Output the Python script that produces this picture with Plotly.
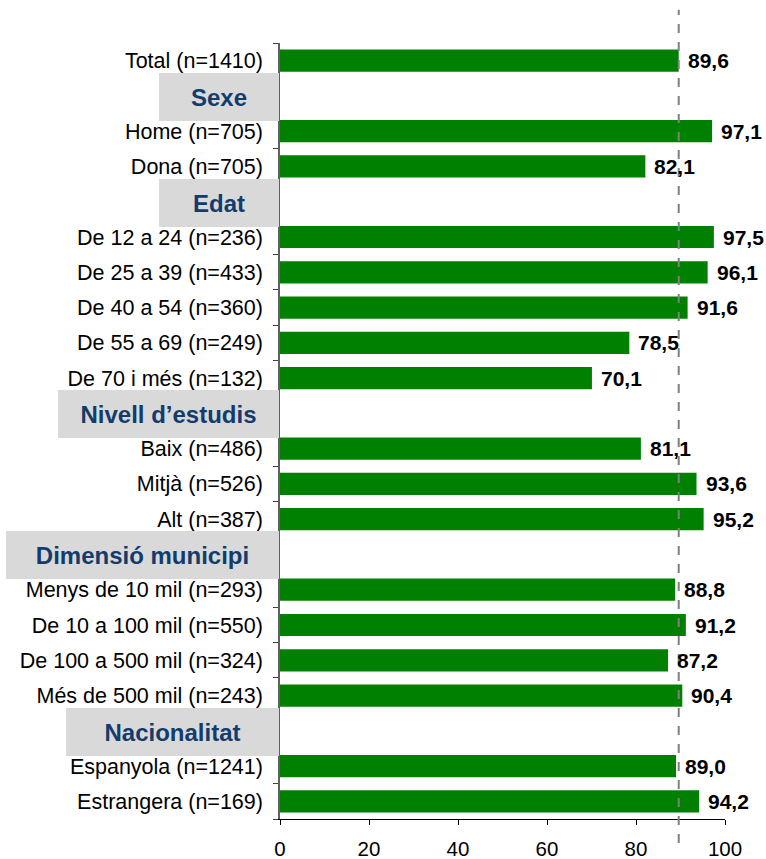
import plotly.graph_objects as go

categories = [
    "Total (n=1410)", "Sexe", "Home (n=705)", "Dona (n=705)", "Edat",
    "De 12 a 24 (n=236)", "De 25 a 39 (n=433)", "De 40 a 54 (n=360)",
    "De 55 a 69 (n=249)", "De 70 i més (n=132)", "Nivell d’estudis",
    "Baix (n=486)", "Mitjà (n=526)", "Alt (n=387)", "Dimensió municipi",
    "Menys de 10 mil (n=293)", "De 10 a 100 mil (n=550)",
    "De 100 a 500 mil (n=324)", "Més de 500 mil (n=243)", "Nacionalitat",
    "Espanyola (n=1241)", "Estrangera (n=169)",
]
headers = ["Sexe", "Edat", "Nivell d’estudis", "Dimensió municipi", "Nacionalitat"]
header_box_widths = [120, 120, 221, 273, 213]
values = [
    89.6, None, 97.1, 82.1, None,
    97.5, 96.1, 91.6, 78.5, 70.1, None,
    81.1, 93.6, 95.2, None,
    88.8, 91.2, 87.2, 90.4, None,
    89.0, 94.2,
]
reference_value = 89.6
x_ticks = [0, 20, 40, 60, 80, 100]

FONT = "Liberation Sans, Arial, sans-serif"

fig = go.Figure()
fig.add_trace(go.Bar(
    y=categories, x=values, orientation="h",
    marker=dict(color="#008000", line=dict(width=0)),
    width=0.63, hoverinfo="skip",
))

ticktext = ["" if c in headers else c for c in categories]

annotations = []
for c, v in zip(categories, values):
    if v is None:
        continue
    annotations.append(dict(
        x=v, y=c, xref="x", yref="y", xanchor="left", yanchor="middle",
        xshift=7, showarrow=False,
        text="<b>" + f"{v:.1f}".replace(".", ",") + "</b>",
        font=dict(family=FONT, size=21, color="black"),
    ))
for h, w in zip(headers, header_box_widths):
    annotations.append(dict(
        x=0, y=h, xref="paper", yref="y", xanchor="right", yanchor="middle",
        xshift=-1, yshift=-1, showarrow=False,
        text="<b>" + h + "</b>", width=w, height=48, align="center",
        bgcolor="#D9D9D9", borderpad=0, borderwidth=0,
        font=dict(family=FONT, size=24, color="#133C6D"),
    ))

fig.add_shape(
    type="line", xref="x", yref="paper",
    x0=reference_value, x1=reference_value, y0=-0.031, y1=1.043,
    line=dict(color="#808080", width=2, dash="dash"),
)

fig.update_layout(
    width=766, height=859,
    margin=dict(l=280, r=41, t=43, b=40, autoexpand=False),
    paper_bgcolor="white", plot_bgcolor="white",
    showlegend=False,
    font=dict(family=FONT, size=21, color="black"),
    annotations=annotations,
)
fig.update_xaxes(
    range=[0, 100], tickvals=x_ticks, ticks="outside", ticklen=5,
    tickcolor="black", showline=True, linecolor="black", linewidth=1,
    showgrid=False, zeroline=False, ticklabelstandoff=6,
    tickfont=dict(family=FONT, size=20.5, color="black"),
    automargin=False,
)
fig.update_yaxes(
    type="category", categoryorder="array", categoryarray=categories,
    autorange="reversed", tickvals=categories, ticktext=ticktext,
    tickson="boundaries", ticks="outside", ticklen=5, tickcolor="#404040",
    showline=True, linecolor="#606060", linewidth=1.5, showgrid=False,
    ticklabelstandoff=11, automargin=False,
    tickfont=dict(family=FONT, size=21.5, color="black"),
)

fig.write_html(
    "out.html",
    config={"displayModeBar": False},
    post_script="document.body.style.margin='0';document.body.style.overflow='hidden';",
)
